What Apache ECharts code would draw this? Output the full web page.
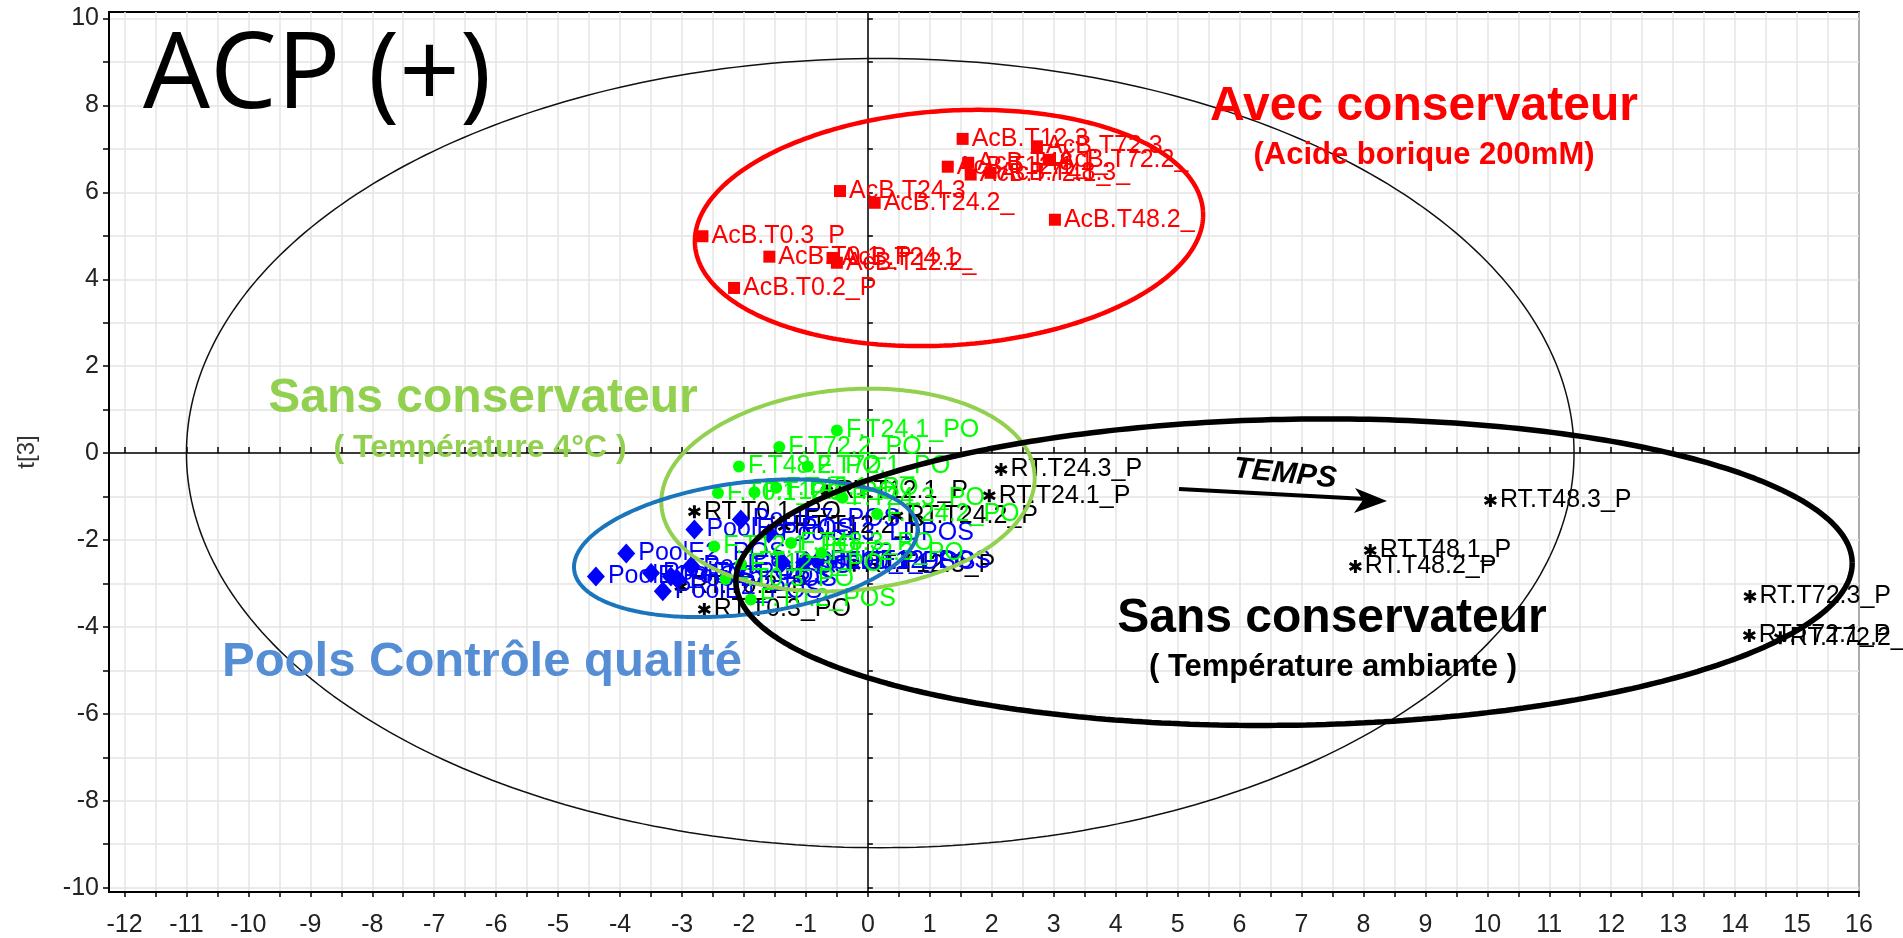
<!DOCTYPE html>
<html>
<head>
<meta charset="utf-8">
<script src="https://cdn.jsdelivr.net/npm/echarts@6/dist/echarts.min.js"></script>
<style>
  html, body { margin: 0; padding: 0; background: #fff; }
  #chart { width: 1903px; height: 938px; }
</style>
</head>
<body>
<div id="chart"></div>
<script>
// ---- Axis tick labels ----
const xTickLabels = [-12, -11, -10, -9, -8, -7, -6, -5, -4, -3, -2, -1, 0, 1, 2, 3, 4, 5, 6, 7, 8, 9, 10, 11, 12, 13, 14, 15, 16];
const yTickLabels = [-10, -8, -6, -4, -2, 0, 2, 4, 6, 8, 10];

// ---- Scores t[1] / t[3] ----
// Avec conservateur (acide borique)
const acbNames = ['AcB.T0.3_P', 'AcB.T0.2_P', 'AcB.T0.1_P', 'AcB.T24.1_', 'AcB.T12.2_', 'AcB.T24.3', 'AcB.T24.2_', 'AcB.T12.3', 'AcB.T12.1_', 'AcB.T48.1_', 'AcB.T72.1_', 'AcB.T48.3_', 'AcB.T72.3', 'AcB.T72.2_', 'AcB.T48.2_'];
const acbX = [-2.67, -2.16, -1.59, -0.57, -0.50, -0.45, 0.11, 1.53, 1.29, 1.62, 1.66, 1.98, 2.73, 2.92, 3.02];
const acbY = [4.99, 3.80, 4.52, 4.49, 4.38, 6.03, 5.76, 7.23, 6.59, 6.68, 6.41, 6.45, 7.06, 6.75, 5.37];

// Sans conservateur, 4°C
const frigoNames = ['F.T24.1_PO', 'F.T72.2_PO', 'F.T48.2_PO', 'F.T72.1_PO', 'F.T0.1_PO', 'F.T12.2_PO', 'F.T48.1_PO', 'F.T24.3_PO', 'F.T24.2_PO', 'F.T12.1_PO', 'F.T48.3_PO', 'F.T0.2_POS', 'F.T12.3_PO', 'F.T72.3_PO', 'F.T0.3_PO'];
const frigoX = [-0.50, -1.43, -2.08, -0.97, -2.42, -1.83, -1.48, -0.41, 0.15, -2.48, -1.24, -1.89, -2.05, -0.75, -2.30];
const frigoY = [0.52, 0.14, -0.31, -0.31, -0.92, -0.90, -0.80, -1.03, -1.40, -2.15, -2.07, -3.37, -2.55, -2.30, -2.90];

// Pools contrôle qualité
const poolNames = ['PoolE1_POS', 'PoolE2_POS', 'PoolE3_POS', 'PoolE4_POS', 'PoolE5_POS', 'PoolE6_POS', 'PoolE7_POS', 'PoolE8_POS', 'PoolE9_POS', 'PoolE10_POS', 'PoolE11_POS', 'PoolE12_POS', 'PoolE13_LDPOS'];
const poolX = [-4.39, -3.90, -3.50, -3.31, -3.18, -2.80, -2.05, -3.07, -2.85, -1.38, -1.03, -0.81, -1.60];
const poolY = [-2.84, -2.31, -2.76, -3.18, -2.84, -1.76, -1.53, -2.91, -2.60, -2.52, -2.52, -2.49, -1.85];

// Sans conservateur, température ambiante
const rtNames = ['RT.T0.1_PO', 'RT.T0.2_P', 'RT.T0.3_PO', 'RT.T12.1_P', 'RT.T12.2_P', 'RT.T12.3_P', 'RT.T24.1_P', 'RT.T24.2_P', 'RT.T24.3_P', 'RT.T48.1_P', 'RT.T48.2_P', 'RT.T48.3_P', 'RT.T72.1_P', 'RT.T72.2_P', 'RT.T72.3_P'];
const rtX = [-2.80, -3.02, -2.64, -0.66, -1.35, -0.22, 1.96, 0.47, 2.15, 8.11, 7.87, 10.05, 14.23, 14.73, 14.24];
const rtY = [-1.35, -3.07, -3.60, -0.87, -1.69, -2.58, -0.98, -1.45, -0.38, -2.24, -2.61, -1.09, -4.20, -4.25, -3.30];

// ---- Ellipses: [cx, cy, ux, uy, vx, vy] (centre + two semi-axis vectors) ----
const ellipseT2 = [0.2, 0, 11.2, 0, 0, 9.08];
const ellipseAcB = [1.31, 5.18, 4.10, 0.39, -0.13, 2.69];
const ellipseFrigo = [-0.32, -0.85, 3.01, 0.39, -0.15, 2.30];
const ellipsePool = [-1.97, -2.19, 2.77, 0.51, -0.14, 1.50];
const ellipseRT = [6.88, -2.74, 9.01, 0.22, -0.04, 3.52];

// ---- helpers ----
const xTicks = [];
xTickLabels.forEach((v, i) => { xTicks.push(v); if (i < xTickLabels.length - 1) xTicks.push(v + 0.5); });
const yTicks = [];
yTickLabels.forEach((v, i) => { yTicks.push(v); if (i < yTickLabels.length - 1) yTicks.push(v + 1); });

function ellipseLine(e, n) {
  const pts = [];
  for (let i = 0; i <= n; i++) {
    const t = 2 * Math.PI * i / n;
    pts.push([
      e[0] + e[2] * Math.cos(t) + e[4] * Math.sin(t),
      e[1] + e[3] * Math.cos(t) + e[5] * Math.sin(t)
    ]);
  }
  return pts;
}

const LABEL_FONT = "'Liberation Sans', Arial, sans-serif";
const BOLD_FONT = "'Liberation Sans', Arial, sans-serif";

function scatterGroup(name, names, xs, ys, symbol, size, color, z) {
  return {
    name: name,
    type: 'scatter',
    xAxisIndex: 0, yAxisIndex: 0,
    symbol: symbol,
    symbolSize: size,
    z: z,
    itemStyle: { color: color, opacity: 1 },
    label: {
      show: true, position: 'right', distance: 3,
      formatter: '{b}', color: color,
      fontFamily: LABEL_FONT, fontSize: 25
    },
    emphasis: { disabled: true },
    data: names.map((n, i) => ({ name: n, value: [xs[i], ys[i]] }))
  };
}

function ellipseSeries(name, e, color, width) {
  return {
    name: name,
    type: 'line',
    xAxisIndex: 0, yAxisIndex: 0,
    showSymbol: false,
    symbol: 'none',
    silent: true,
    z: 20,
    lineStyle: { color: color, width: width },
    data: ellipseLine(e, 360)
  };
}

// six-armed asterisk marker
const starPath = 'path://M3.9,0L6.1,0L6.1,10L3.9,10Z' +
  'M1.22,1.55L9.88,6.55L8.78,8.45L0.12,3.45Z' +
  'M0.12,6.55L8.78,1.55L9.88,3.45L1.22,8.45Z';

const chart = echarts.init(document.getElementById('chart'), null, { renderer: 'canvas' });

const option = {
  animation: false,
  backgroundColor: '#fff',
  grid: {
    left: 109, right: 44, top: 12, bottom: 46,
    show: true, borderColor: '#000', borderWidth: 2, backgroundColor: 'transparent'
  },
  xAxis: [{
    type: 'value', min: -12.25, max: 16, position: 'bottom',
    axisLine: { show: true, onZero: false, lineStyle: { color: '#000', width: 2 } },
    axisTick: { show: true, customValues: xTicks, length: 5, lineStyle: { color: '#000', width: 1.5 } },
    axisLabel: { customValues: xTickLabels, margin: 21, fontSize: 25, color: '#222', fontFamily: LABEL_FONT },
    splitLine: { show: true, lineStyle: { color: '#e4e4e4', width: 1.5 } }
  }, {
    type: 'value', min: -12.25, max: 16, position: 'bottom',
    axisLine: { show: false },
    axisTick: { show: true, inside: true, customValues: xTicks, length: 6, lineStyle: { color: '#000', width: 1.5 } },
    axisLabel: { show: false },
    splitLine: { show: false }
  }],
  yAxis: [{
    type: 'value', min: -10.1, max: 10.15, position: 'left',
    name: 't[3]', nameLocation: 'middle', nameGap: 70, nameRotate: 90,
    nameTextStyle: { fontSize: 24, color: '#333', fontFamily: LABEL_FONT },
    axisLine: { show: true, onZero: false, lineStyle: { color: '#000', width: 2 } },
    axisTick: { show: true, customValues: yTicks, length: 6, lineStyle: { color: '#000', width: 1.5 } },
    axisLabel: { customValues: yTickLabels, margin: 10, fontSize: 25, color: '#222', fontFamily: LABEL_FONT },
    splitLine: { show: true, lineStyle: { color: '#e4e4e4', width: 1.5 } }
  }, {
    type: 'value', min: -10.1, max: 10.15, position: 'left',
    axisLine: { show: false },
    axisTick: { show: true, inside: true, customValues: yTicks, length: 5, lineStyle: { color: '#000', width: 1.5 } },
    axisLabel: { show: false },
    splitLine: { show: false }
  }],
  series: [
    {
      name: 'axes0',
      type: 'scatter',
      xAxisIndex: 0, yAxisIndex: 0,
      data: [],
      silent: true,
      z: 1,
      markLine: {
        silent: true, symbol: ['none', 'none'], animation: false,
        label: { show: false },
        lineStyle: { color: '#000', width: 1.5, type: 'solid' },
        data: [{ xAxis: 0 }, { yAxis: 0 }]
      }
    },
    scatterGroup('RT', rtNames, rtX, rtY, starPath, 13, '#000', 5),
    scatterGroup('Pool', poolNames, poolX, poolY, 'diamond', [18, 20], '#0000ff', 6),
    scatterGroup('Frigo', frigoNames, frigoX, frigoY, 'circle', 12, '#00ff00', 7),
    scatterGroup('AcB', acbNames, acbX, acbY, 'rect', 12, '#ff0000', 8),
    ellipseSeries('T2', ellipseT2, '#111', 1.5),
    ellipseSeries('eAcB', ellipseAcB, '#ff0000', 4.5),
    ellipseSeries('eFrigo', ellipseFrigo, '#92d050', 4),
    ellipseSeries('ePool', ellipsePool, '#1b75bc', 4),
    ellipseSeries('eRT', ellipseRT, '#000', 5.5)
  ],
  graphic: [
    { type: 'text', x: 143, y: 78, z: 100,
      style: { text: 'ACP (+)', fill: '#000', font: "106px 'Open Sans', 'Noto Sans', sans-serif", textAlign: 'left', textVerticalAlign: 'middle' } },
    { type: 'text', x: 1424, y: 107, z: 100,
      style: { text: 'Avec conservateur', fill: '#ff0000', font: "bold 48px " + BOLD_FONT, textAlign: 'center', textVerticalAlign: 'middle' } },
    { type: 'text', x: 1424, y: 155, z: 100,
      style: { text: '(Acide borique 200mM)', fill: '#ff0000', font: "bold 31px " + BOLD_FONT, textAlign: 'center', textVerticalAlign: 'middle' } },
    { type: 'text', x: 483, y: 399, z: 100,
      style: { text: 'Sans conservateur', fill: '#92d050', font: "bold 48px " + BOLD_FONT, textAlign: 'center', textVerticalAlign: 'middle' } },
    { type: 'text', x: 480, y: 448, z: 100,
      style: { text: '( Température 4°C )', fill: '#92d050', font: "bold 32px " + BOLD_FONT, textAlign: 'center', textVerticalAlign: 'middle' } },
    { type: 'text', x: 482, y: 662, z: 100,
      style: { text: 'Pools Contrôle qualité', fill: '#558ed5', font: "bold 49px " + BOLD_FONT, textAlign: 'center', textVerticalAlign: 'middle' } },
    { type: 'text', x: 1332, y: 619, z: 100,
      style: { text: 'Sans conservateur', fill: '#000', font: "bold 48px " + BOLD_FONT, textAlign: 'center', textVerticalAlign: 'middle' } },
    { type: 'text', x: 1333, y: 667, z: 100,
      style: { text: '( Température ambiante )', fill: '#000', font: "bold 31px " + BOLD_FONT, textAlign: 'center', textVerticalAlign: 'middle' } },
    { type: 'text', x: 1285, y: 474, z: 100, rotation: -0.1,
      style: { text: 'TEMPS', fill: '#000', font: "italic bold 30px " + BOLD_FONT, textAlign: 'center', textVerticalAlign: 'middle' } },
    { type: 'line', z: 100,
      shape: { x1: 1179, y1: 489, x2: 1366, y2: 499 },
      style: { stroke: '#000', lineWidth: 4 } },
    { type: 'polygon', z: 100,
      shape: { points: [[1387, 501], [1355, 488], [1363, 500], [1354, 513]] },
      style: { fill: '#000' } }
  ]
};

chart.setOption(option);
</script>
</body>
</html>
